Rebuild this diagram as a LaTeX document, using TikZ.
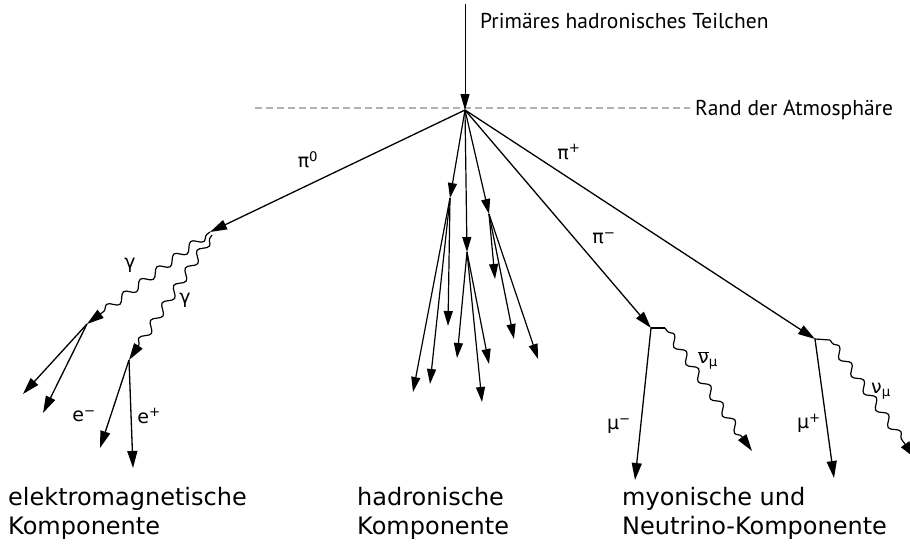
\documentclass[tikz,border=0pt]{standalone}
\usepackage{fontspec}
\setmainfont{DejaVu Sans}
\newfontfamily\toplabel{PT Sans}
\usetikzlibrary{arrows.meta,decorations.pathmorphing}
\tikzset{
  part/.style={line width=1.3pt,-{Triangle[length=17pt,width=10pt]}},
  had/.style={line width=1.2pt,-{Triangle[length=15pt,width=9pt]}},
  wave/.style={line width=1.2pt,-{Triangle[length=17pt,width=10pt]},decorate,
    decoration={snake,amplitude=4pt,segment length=21pt,pre length=4pt,post length=16pt}},
  lbl/.style={font=\fontsize{19}{21}\selectfont,inner sep=1pt},
  comp/.style={font=\fontsize{24}{29}\selectfont,align=left,anchor=north west,inner sep=0pt},
  topl/.style={font=\toplabel\fontsize{21.5}{24}\selectfont,anchor=west,inner sep=0pt}
}
\begin{document}
\begin{tikzpicture}[x=1pt,y=-1pt]
\useasboundingbox (0,0) rectangle (910,547);
% points
\coordinate (top) at (465,4);
\coordinate (V) at (465,110);
\coordinate (dl) at (255,108);
\coordinate (dr) at (690,108);
\coordinate (P0) at (210,232);
\coordinate (G1) at (87,324);
\coordinate (G2) at (129,360);
\coordinate (E1) at (23,394);
\coordinate (E2) at (43,413);
\coordinate (Em) at (100,448);
\coordinate (Ep) at (133,468);
\coordinate (HA) at (450,198);
\coordinate (HB) at (467,252);
\coordinate (HC) at (489,214);
\coordinate (A1) at (413,392);
\coordinate (A2) at (430,384);
\coordinate (A3) at (448,326);
\coordinate (B1) at (457,358);
\coordinate (B2) at (482,402);
\coordinate (B3) at (489,364);
\coordinate (C1) at (495,279);
\coordinate (C2) at (514,339);
\coordinate (C3) at (538,359);
\coordinate (PM) at (651,328);
\coordinate (PMh) at (665,328);
\coordinate (MUm) at (635,480);
\coordinate (NUb) at (752,451);
\coordinate (PP) at (815,339);
\coordinate (PPh) at (830,340);
\coordinate (MUp) at (834,478);
\coordinate (NU) at (915,458);
% atmosphere edge
\draw[gray!60,line width=1.1pt,dash pattern=on 7pt off 4pt] (dl) -- (dr);
\node[topl] (rand) at (695,110) {Rand der Atmosphäre};
% primary
\draw[line width=0.9pt,-{Triangle[length=16pt,width=9pt]}] (top) -- (V);
\node[topl] (prim) at (480,21) {Primäres hadronisches Teilchen};
% pi0 branch
\draw[part] (V) -- (P0);
\node[lbl] (lpi0) at (308,160) {π\textsuperscript{0}};
\draw[wave] (P0) -- (G1);
\draw[wave] ([shift={(2,3)}]P0) -- (G2);
\node[lbl] (lg1) at (130,265) {γ};
\node[lbl] (lg2) at (185,300) {γ};
\draw[part] (G1) -- (E1);
\draw[part] (G1) -- (E2);
\draw[part] (G2) -- (Em);
\draw[part] (G2) -- (Ep);
\node[lbl] (lem) at (84,416) {e\textsuperscript{−}};
\node[lbl] (lep) at (149,416) {e\textsuperscript{+}};
% hadronic
\draw[had] (V) -- (HA);
\draw[had] (V) -- (HB);
\draw[had] (V) -- (HC);
\draw[had] (HA) -- (A1);
\draw[had] (HA) -- (A2);
\draw[had] (HA) -- (A3);
\draw[had] (HB) -- (B1);
\draw[had] (HB) -- (B2);
\draw[had] (HB) -- (B3);
\draw[had] (HC) -- (C1);
\draw[had] (HC) -- (C2);
\draw[had] (HC) -- (C3);
% pi- branch
\draw[part] (V) -- (PM);
\node[lbl] (lpim) at (604,238) {π\textsuperscript{−}};
\draw[line width=1.2pt] (PM) -- (PMh);
\draw[wave] (PMh) -- (NUb);
\draw[part] (PM) -- (MUm);
\node[lbl] (lmum) at (619,426) {μ\textsuperscript{−}};
\node[lbl] (lnub) at (708,360) {$\overline{\hbox{ν}}$\textsubscript{μ}};
% pi+ branch
\draw[part] (V) -- (PP);
\node[lbl] (lpip) at (569,152) {π\textsuperscript{+}};
\draw[line width=1.2pt] (PP) -- (PPh);
\draw[wave] (PPh) -- (NU);
\draw[part] (PP) -- (MUp);
\node[lbl] (lmup) at (809,423) {μ\textsuperscript{+}};
\node[lbl] (lnu) at (881,391) {ν\textsubscript{μ}};
% component labels
\node[comp] (em) at (8,487) {elektromagnetische\\Komponente};
\node[comp] (hd) at (357,487) {hadronische\\Komponente};
\node[comp] (mu) at (622,487) {myonische und\\Neutrino-Komponente};
\end{tikzpicture}
\end{document}
